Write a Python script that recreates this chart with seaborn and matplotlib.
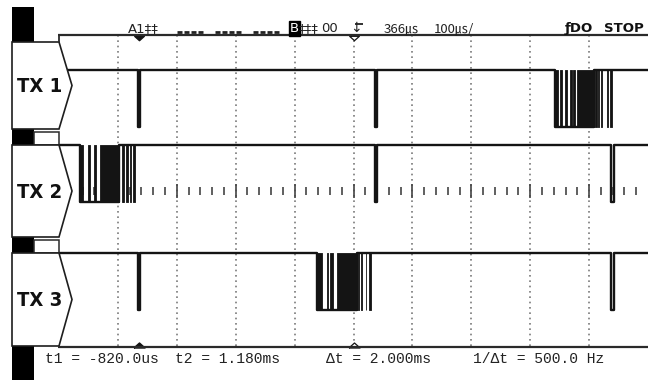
import matplotlib
matplotlib.use("Agg")
import numpy as np
import pandas as pd
import matplotlib.pyplot as plt
from matplotlib.patches import Polygon, Rectangle
from matplotlib.path import Path
import seaborn as sns

# ---------------- data (time in ms) ----------------
channels = ["TX 1", "TX 2", "TX 3"]

# narrow sync pulses (line drops low for a moment)
sync_tx1 = [-0.83, 1.18]
sync_tx2 = [1.18, 3.19]
sync_tx3 = [-0.83, 3.19]
sync_width = 0.02

# span of each data burst during which the line rests low
burst_tx1 = (2.711, 3.042)
burst_tx2 = (-1.322, -0.988)
burst_tx3 = (0.693, 1.032)

# dense toggling inside each burst (start, end)
bars_tx1 = [(2.711, 2.739), (2.753, 2.770), (2.795, 2.815), (2.838, 2.852),
            (2.866, 2.883), (2.895, 3.042), (3.054, 3.065), (3.076, 3.086),
            (3.097, 3.107), (3.148, 3.158), (3.177, 3.194)]
bars_tx2 = [(-1.322, -1.294), (-1.251, -1.237), (-1.203, -1.186), (-1.148, -0.988),
            (-0.968, -0.959), (-0.954, -0.946), (-0.931, -0.912), (-0.897, -0.889),
            (-0.872, -0.855)]
bars_tx3 = [(0.693, 0.730), (0.773, 0.786), (0.801, 0.823), (0.863, 1.032),
            (1.038, 1.047), (1.066, 1.075), (1.102, 1.110), (1.132, 1.146)]

cursor_t1 = -0.82
cursor_t2 = 1.18
trigger_t = 1.0

readout_text = ["t1 = -820.0us", "t2 = 1.180ms", "\u0394t = 2.000ms", "1/\u0394t = 500.0 Hz"]

# ---------------- screen geometry ----------------
W, H = 648, 380
t_min, t_max = -1.5, 3.5          # 0.5 ms / div, 10 div
div = 0.5
plot_left, plot_right = 59, 648
plot_top, plot_bottom = 35, 347
ph = plot_bottom - plot_top
ch_high = {"TX 1": 35, "TX 2": 110, "TX 3": 218}
amp = 57
center_y = 156
ink = "#141414"

sns.set_theme(style="white")
plt.rcParams["font.family"] = ["DejaVu Sans", "Noto Sans CJK JP"]

fig = plt.figure(figsize=(W / 100, H / 100), dpi=100)
fig.patch.set_facecolor("white")

ax = fig.add_axes([plot_left / W, 1 - plot_bottom / H,
                   (plot_right - plot_left) / W, ph / H], zorder=1)
ax.set_xlim(t_min, t_max)
ax.set_ylim(ph, 0)
ax.set_facecolor("none")
ax.axis("off")

# graticule: dotted verticals and centre tick marks
grid_x = np.arange(t_min + div, t_max - 1e-9, div)
ax.vlines(grid_x, 0, ph, colors="#7a7a7a", linestyles=(0, (1, 2.2)), lw=1.2, zorder=0)
minor_x = np.arange(t_min + 0.1, t_max - 1e-9, 0.1)
minor_x = minor_x[np.abs(np.round(minor_x / div) * div - minor_x) > 1e-6]
ax.vlines(minor_x, center_y - 4, center_y + 4, colors="#444444", lw=1.2, zorder=0)
ax.vlines(grid_x, center_y - 7, center_y + 7, colors="#444444", lw=1.2, zorder=0)

# logic traces
syncs = {"TX 1": sync_tx1, "TX 2": sync_tx2, "TX 3": sync_tx3}
bursts = {"TX 1": burst_tx1, "TX 2": burst_tx2, "TX 3": burst_tx3}
bars = {"TX 1": bars_tx1, "TX 2": bars_tx2, "TX 3": bars_tx3}

rows = []
for ch in channels:
    ev = [(t, 0) for t in syncs[ch]] + [(t + sync_width, 1) for t in syncs[ch]]
    ev += [(bursts[ch][0], 0), (bursts[ch][1], 1)]
    ev.sort()
    pts = [(t_min, 1)] + ev + [(t_max, 1)]
    for i, (t, lv) in enumerate(pts):
        rows.append({"channel": ch, "order": i, "t": t,
                     "y": ch_high[ch] + (1 - lv) * amp})
df = pd.DataFrame(rows)
sns.lineplot(data=df, x="t", y="y", units="channel", estimator=None, sort=False,
             drawstyle="steps-post", color=ink, lw=1.7, ax=ax, zorder=3)

for ch in channels:
    spans = [(a, b - a) for a, b in bars[ch]]
    ax.broken_barh(spans, (ch_high[ch], amp), facecolors=ink, edgecolor=ink,
                   lw=0.6, zorder=3)

# cursor / trigger markers
tri_down = Path([(-1, 0.45), (1, 0.45), (0, -0.45), (-1, 0.45)])
tri_up = Path([(-1, -0.45), (1, -0.45), (0, 0.45), (-1, -0.45)])
ax.plot([cursor_t1], [2.5], marker=tri_down, ms=7, color=ink, ls="none",
        clip_on=False, zorder=4)
ax.plot([trigger_t], [2.5], marker=tri_down, ms=7, mfc="white", mec=ink,
        mew=0.9, ls="none", clip_on=False, zorder=4)
ax.plot([cursor_t1], [ph - 2.5], marker=tri_up, ms=8, color=ink, ls="none",
        clip_on=False, zorder=4)
ax.plot([trigger_t], [ph - 2.5], marker=tri_up, ms=8, mfc="white", mec=ink,
        mew=0.9, ls="none", clip_on=False, zorder=4)

# ---------------- frame, channel tags and status text ----------------
ov = fig.add_axes([0, 0, 1, 1], zorder=2)
ov.set_xlim(0, W)
ov.set_ylim(H, 0)
ov.set_facecolor("none")
ov.axis("off")

ov.hlines(plot_top, plot_left - 1, W, colors="#2a2a2a", lw=1.6)
ov.hlines(plot_bottom, plot_left - 1, W, colors="#2a2a2a", lw=1.6)
ov.vlines(plot_left, plot_top, 42, colors="#2a2a2a", lw=1.3)

for (y0, y1) in [(7, 42), (129, 145), (237, 253), (346, 380)]:
    ov.add_patch(Rectangle((12, y0), 22, y1 - y0, facecolor="black", edgecolor="none"))
for (y0, y1) in [(132, 145), (240, 253)]:
    ov.add_patch(Rectangle((34, y0), 25, y1 - y0, facecolor="white",
                           edgecolor="#2a2a2a", lw=1.1))

tags = [("TX 1", 42, 129), ("TX 2", 145, 237), ("TX 3", 253, 346)]
for name, y0, y1 in tags:
    ym = (y0 + y1) / 2
    ov.add_patch(Polygon([(12, y0), (59, y0), (72, ym), (59, y1), (12, y1)],
                         closed=True, facecolor="white", edgecolor="#1e1e1e", lw=1.2))
    ov.text(40, ym + 1, name, ha="center", va="center", fontsize=14.5,
            family="DejaVu Sans", stretch="condensed", weight="bold",
            color="#111111")

# top status line
st = dict(fontsize=9.5, color="#222222", va="baseline")
ov.text(128, 32, "A1\u2021\u2021", **st)
for g in (177, 215, 253):
    for k in range(4):
        ov.hlines(32, g + k * 7, g + k * 7 + 5, colors="#222222", lw=2)
ov.text(290, 32, "B", fontsize=9.5, color="white", va="baseline",
        bbox=dict(boxstyle="square,pad=0.1", fc="black", ec="black"))
ov.text(299, 32, "\u2021\u2021\u2021", **st)
ov.text(321, 32, "00", **st)
ov.text(350, 32, "\u2193", fontsize=10, color="#222222", va="baseline")
ov.hlines(24, 355, 363, colors="#222222", lw=1.3)
ov.text(384, 32, "366\u33b2", family=["Noto Sans CJK JP"], fontsize=9.5,
        color="#222222", va="baseline")
ov.text(434, 32, "100\u33b2/", family=["Noto Sans CJK JP"], fontsize=9.5,
        color="#222222", va="baseline")
ov.text(565, 32, "\u0192DO", fontsize=9.5, weight="bold", color="#111111", va="baseline")
ov.text(604, 32, "STOP", fontsize=9.5, weight="bold", color="#111111", va="baseline")

# cursor readout
rx = [45, 175, 326, 473]
for x, s in zip(rx, readout_text):
    ov.text(x, 363, s, family="Liberation Mono", fontsize=10.5, color="#222222",
            va="baseline")

fig.savefig("out.png", dpi=100, facecolor="white")
